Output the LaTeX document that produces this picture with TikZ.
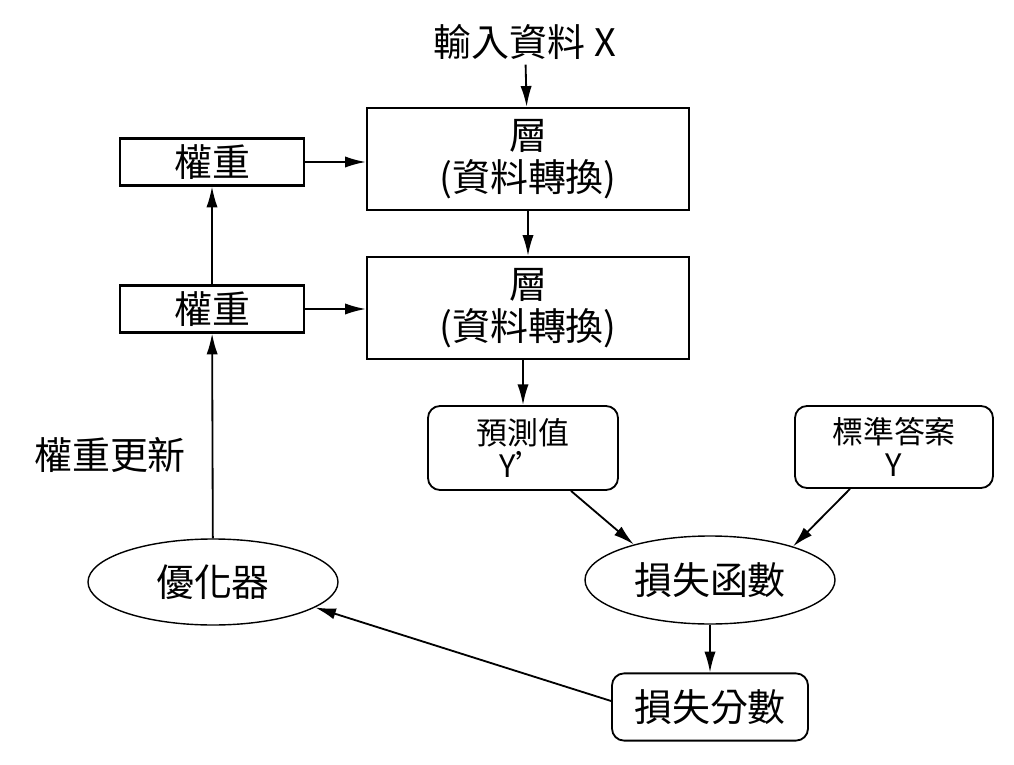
\documentclass[tikz,border=0pt]{standalone}
\usepackage{fontspec}
\setmainfont{Noto Sans CJK TC}
\usetikzlibrary{arrows.meta,positioning,shapes.geometric}

\tikzset{
  bigtext/.style={font=\fontsize{27}{29}\selectfont},
  smalltext/.style={font=\fontsize{22}{24}\selectfont},
  layerbox/.style={draw,line width=1.6pt,bigtext,align=center,inner sep=0pt,
                   minimum width=8.05cm,minimum height=2.55cm},
  weightbox/.style={draw,line width=1.6pt,bigtext,inner sep=0pt,
                    minimum width=4.6cm,minimum height=1.17cm},
  roundbox/.style={draw,line width=1.3pt,rounded corners=0.3cm,align=center,
                   inner sep=0pt},
  ovalnode/.style={draw,ellipse,line width=1pt,bigtext,inner sep=0pt,
                   minimum width=6.25cm,minimum height=2.2cm},
  flow/.style={-{Latex[length=5.2mm,width=2.8mm]},line width=1.3pt}
}

\begin{document}
\begin{tikzpicture}
  \useasboundingbox (0,0) rectangle (25.35,19.1);

  % data path
  \node[bigtext] (input) at (13.125,18.05) {輸入資料 X};
  \node[layerbox] (layerA) at (13.2,15.125) {層\\[1pt](資料轉換)};
  \node[layerbox] (layerB) at (13.2,11.4) {層\\[1pt](資料轉換)};
  \node[weightbox] (weightA) at (5.3,15.05) {權重};
  \node[weightbox] (weightB) at (5.3,11.375) {權重};

  \node[roundbox,smalltext,minimum width=4.75cm,minimum height=2.1cm]
    (pred) at (13.075,7.9) {預測值\\Y'};
  \node[roundbox,smalltext,minimum width=4.95cm,minimum height=2.05cm]
    (target) at (22.35,7.925) {標準答案\\Y};

  \node[ovalnode] (lossfn) at (17.75,4.6) {損失函數};
  \node[ovalnode,minimum height=2.15cm] (optim) at (5.325,4.55) {優化器};
  \node[roundbox,bigtext,minimum width=4.9cm,minimum height=1.68cm]
    (score) at (17.75,1.425) {損失分數};

  \node[bigtext] (update) at (2.75,7.725) {權重更新};

  % connectors
  \draw[flow] (input) -- (layerA);
  \draw[flow] (layerA) -- (layerB);
  \draw[flow] (weightA.east) -- (weightA.east -| layerA.west);
  \draw[flow] (weightB.east) -- (weightB.east -| layerB.west);
  \draw[flow] (layerB.south -| pred.north) -- (pred.north);
  \draw[flow] ([xshift=1.2cm]pred.south) -- (lossfn.155);
  \draw[flow] ([xshift=-1.1cm]target.south) -- (lossfn.22);
  \draw[flow] (lossfn) -- (score);
  \draw[flow] ([yshift=0.15cm]score.west) -- (optim.-14);
  \draw[flow] (optim) -- (weightB);
  \draw[flow] (weightB) -- (weightA);
\end{tikzpicture}
\end{document}
